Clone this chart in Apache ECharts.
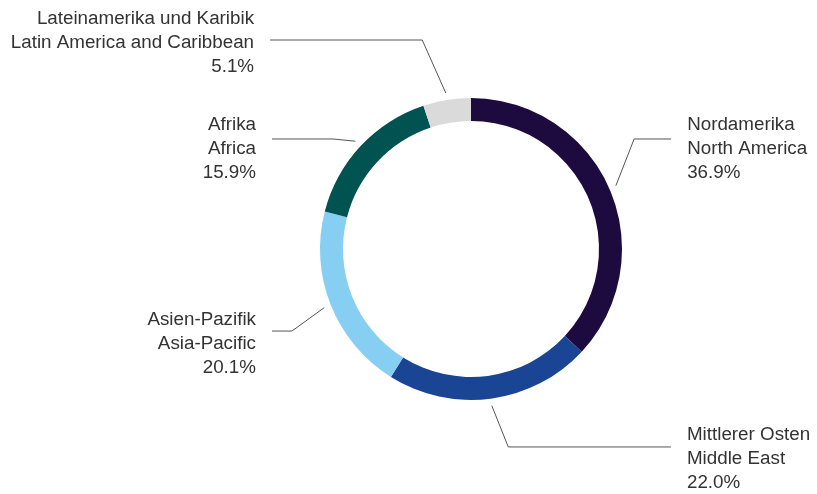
<!DOCTYPE html>
<html>
<head>
<meta charset="utf-8">
<script src="https://cdn.jsdelivr.net/npm/echarts@6/dist/echarts.min.js"></script>
<style>
html,body{margin:0;padding:0;background:#fff;}
#chart{width:817px;height:494px;}
</style>
</head>
<body>
<div id="chart"></div>
<script>
// ---- data ----
const namesDe = ['Nordamerika', 'Mittlerer Osten', 'Asien-Pazifik', 'Afrika', 'Lateinamerika und Karibik'];
const namesEn = ['North America', 'Middle East', 'Asia-Pacific', 'Africa', 'Latin America and Caribbean'];
const shares = [36.9, 22.0, 20.1, 15.9, 5.1];

// ---- styles ----
const colors = ['#1d0b3f', '#1a4494', '#87cef3', '#005351', '#dadada'];
const lineLen = [27, 48.7, 41.8, 37.8, 60.7];
const lineLen2 = [37, 173.7, 20, 61, 167.2];
const lineShift = [-38.8, 0, 10.5, 18.8, 0];
const bendShiftX = [0, 11, 0, 0, -15];
const textShift = [-28.8, 12, 23.5, 28.8, 3];

const chart = echarts.init(document.getElementById('chart'), null, {renderer: 'canvas'});

const seriesData = shares.map((v, i) => ({
  value: v,
  name: namesEn[i],
  itemStyle: {color: colors[i]},
  labelLine: {length: lineLen[i], length2: lineLen2[i]}
}));

chart.setOption({
  animation: false,
  series: [{
    type: 'pie',
    center: [471, 249],
    radius: [128, 151],
    startAngle: 90,
    clockwise: true,
    avoidLabelOverlap: false,
    silent: true,
    itemStyle: {borderWidth: 0},
    label: {
      show: true,
      position: 'outside',
      distanceToLabelLine: 16,
      fontFamily: 'Liberation Sans, Arial, sans-serif',
      fontSize: 18.8,
      lineHeight: 24,
      color: '#333333',
      formatter: function (p) {
        const i = p.dataIndex;
        return namesDe[i] + '\n' + namesEn[i] + '\n' + shares[i].toFixed(1) + '%';
      }
    },
    labelLine: {
      show: true,
      smooth: false,
      lineStyle: {color: '#555555', width: 1}
    },
    labelLayout: function (p) {
      const P = p.labelLinePoints;
      if (!P) return {};
      const i = p.dataIndex;
      const dx = P[1][0] - P[0][0], dy = P[1][1] - P[0][1];
      const d = Math.hypot(dx, dy) || 1;
      const gap = 7;
      const start = [P[0][0] + dx / d * gap, P[0][1] + dy / d * gap];
      const ly = P[1][1] + lineShift[i];
      return {
        y: P[2][1] + textShift[i],
        labelLinePoints: [start, [P[1][0] + bendShiftX[i], ly], [P[2][0], ly]]
      };
    },
    data: seriesData
  }]
});
</script>
</body>
</html>
